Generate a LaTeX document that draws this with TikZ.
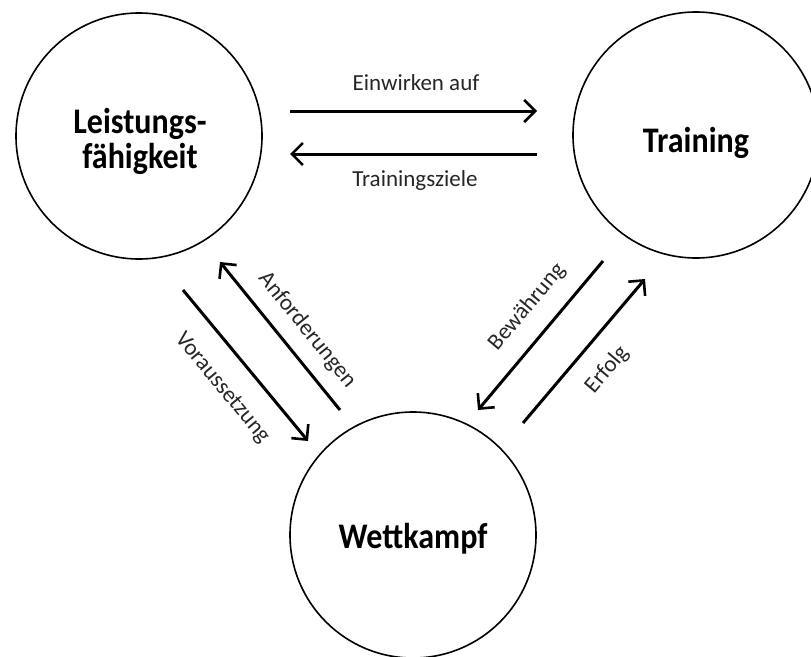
\documentclass[tikz,border=0pt]{standalone}
\usepackage{fontspec}
\setmainfont{Carlito}
\newfontfamily\headfont[FakeStretch=0.89]{Carlito}
\usetikzlibrary{arrows.meta}
\begin{document}
\begin{tikzpicture}[x=1pt,y=-1pt,
  station/.style={circle, draw, line width=1.6pt, minimum size=246pt, inner sep=0pt},
  heading/.style={font=\headfont\bfseries\fontsize{36}{35}\selectfont, anchor=base, align=center, inner sep=0pt},
  flow/.style={line width=3pt, -{Straight Barb[length=11pt,width=22pt,line width=2.6pt]}},
  tag/.style={font=\fontsize{23}{26}\selectfont, text=black!85, inner sep=0pt}]
\useasboundingbox (0,0) rectangle (811,656);
\clip (0,0) rectangle (811,656);

% the three stations
\node[station] (L) at (139,136) {};
\node[station] (T) at (696,135) {};
\node[station] (W) at (413,535) {};
\node[heading] (Lt) at (140,168) {Leistungs-\\fähigkeit};
\node[heading] (Tt) at (696,152) {Training};
\node[heading] (Wt) at (413,548) {Wettkampf};

% arrow end points
\coordinate (lt1) at (290,111); \coordinate (lt2) at (537,111);
\coordinate (tl1) at (537,154); \coordinate (tl2) at (290,154);
\coordinate (lw1) at (183,290); \coordinate (lw2) at (308,441);
\coordinate (wl1) at (340,410); \coordinate (wl2) at (220,262);
\coordinate (tw1) at (603,261); \coordinate (tw2) at (478,410);
\coordinate (wt1) at (523,423); \coordinate (wt2) at (645,279);

\draw[flow] (lt1) -- (lt2);
\draw[flow] (tl1) -- (tl2);
\draw[flow] (lw1) -- (lw2);
\draw[flow] (wl1) -- (wl2);
\draw[flow] (tw1) -- (tw2);
\draw[flow] (wt1) -- (wt2);

% arrow labels
\node[tag, anchor=base] (a1) at (416,90) {Einwirken auf};
\node[tag, anchor=base] (a2) at (415,186) {Trainingsziele};
\node[tag, rotate=-50.4] (a3) at (222,388) {Voraussetzung};
\node[tag, rotate=-51] (a4) at (307,330) {Anforderungen};
\node[tag, rotate=50] (a5) at (527,307) {Bewährung};
\node[tag, rotate=50] (a6) at (607,370) {Erfolg};
\end{tikzpicture}
\end{document}
